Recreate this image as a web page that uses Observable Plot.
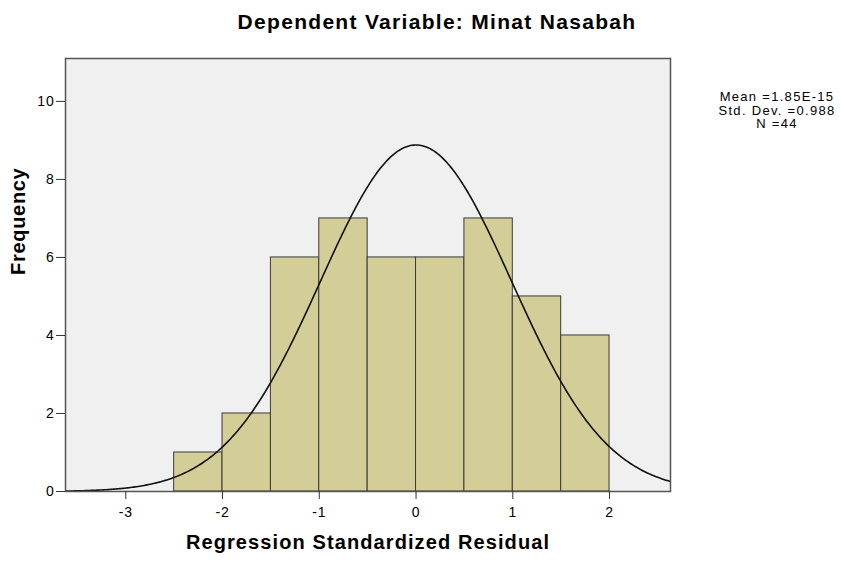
<!DOCTYPE html>
<html>
<head>
<meta charset="utf-8">
<script src="https://cdn.jsdelivr.net/npm/d3@7"></script>
<script src="https://cdn.jsdelivr.net/npm/@observablehq/plot@0.6"></script>
<style>
  html, body { margin: 0; padding: 0; background: #fff; }
  #wrap { position: relative; width: 841px; height: 565px; font-family: "Liberation Sans", Arial, sans-serif; }
  #title { position: absolute; left: 0; width: 874px; top: 10.7px; text-align: center; font-weight: bold; font-size: 21px; line-height: 21px; letter-spacing: 1.3px; color: #000; white-space: nowrap; }
  #stats { position: absolute; left: 697px; width: 160px; top: 90px; text-align: center; font-size: 13px; line-height: 13.5px; letter-spacing: 1.3px; color: #000; white-space: nowrap; }
  #stats div { height: 13.5px; }
  #chart { position: absolute; left: 0; top: 0; }
</style>
</head>
<body>
<div id="wrap">
  <div id="chart"></div>
  <div id="title">Dependent Variable: Minat Nasabah</div>
  <div id="stats"><div>Mean =1.85E-15</div><div>Std. Dev. =0.988</div><div>N =44</div></div>
</div>
<script>
const binStarts = [-2.5, -2.0, -1.5, -1.0, -0.5, 0.0, 0.5, 1.0, 1.5];
const binWidth = 0.5;
const counts = [1, 2, 6, 7, 6, 6, 7, 5, 4];
const xTicks = [-3, -2, -1, 0, 1, 2];
const yTicks = [0, 2, 4, 6, 8, 10];
const meanVal = 1.85e-15;
const sdVal = 0.988;
const nVal = 44;
const xDomain = [-3.623, 2.63];
const yDomain = [0, 11.1];

const bins = binStarts.map((x1, i) => ({x1, x2: x1 + binWidth, count: counts[i]}));

// fitted normal curve defined by the reported mean, std. dev. and N
const curve = d3.range(0, 401).map(i => {
  const x = xDomain[0] + (xDomain[1] - xDomain[0]) * i / 400;
  const z = (x - meanVal) / sdVal;
  return {x, y: nVal * binWidth * Math.exp(-0.5 * z * z) / (sdVal * Math.sqrt(2 * Math.PI))};
});

const fmt = d => String(d);

const chart = Plot.plot({
  width: 841,
  height: 565,
  marginLeft: 65,
  marginRight: 171,
  marginTop: 58,
  marginBottom: 74,
  style: {fontFamily: "'Liberation Sans', Arial, sans-serif", fontSize: "14px", background: "transparent", color: "#000"},
  x: {domain: xDomain, label: null},
  y: {domain: yDomain, label: null},
  marks: [
    Plot.frame({fill: "#f0f0f0"}),
    Plot.rectY(bins, {x1: "x1", x2: "x2", y1: 0, y2: "count", fill: "#d3ce97", stroke: "#3a3a3a", strokeWidth: 1}),
    Plot.line(curve, {x: "x", y: "y", stroke: "#111", strokeWidth: 1.6, clip: true}),
    Plot.frame({stroke: "#555", strokeWidth: 1.5}),
    Plot.axisX({ticks: xTicks, tickFormat: fmt, tickSize: 8, tickPadding: 8, stroke: "#333", fontSize: 14, label: null}),
    Plot.axisY({ticks: yTicks, tickFormat: fmt, tickSize: 9, tickPadding: 2, stroke: "#333", fontSize: 14, label: null}),
    Plot.text(["Regression Standardized Residual"], {frameAnchor: "bottom", dy: 57, lineAnchor: "bottom", fontWeight: "bold", fontSize: 20, text: d => d}),
    Plot.text(["Frequency"], {frameAnchor: "left", dx: -47, rotate: -90, fontWeight: "bold", fontSize: 20, text: d => d})
  ]
});
chart.querySelectorAll("text").forEach(t => {
  const s = t.textContent;
  if (s === "Regression Standardized Residual") t.style.letterSpacing = "1.1px";
  if (s === "Frequency") t.style.letterSpacing = "0.7px";
});
chart.querySelectorAll("g[aria-label='x-axis tick label'] text, g[aria-label='y-axis tick label'] text").forEach(t => t.style.letterSpacing = "0.8px");
document.getElementById("chart").appendChild(chart);
</script>
</body>
</html>
